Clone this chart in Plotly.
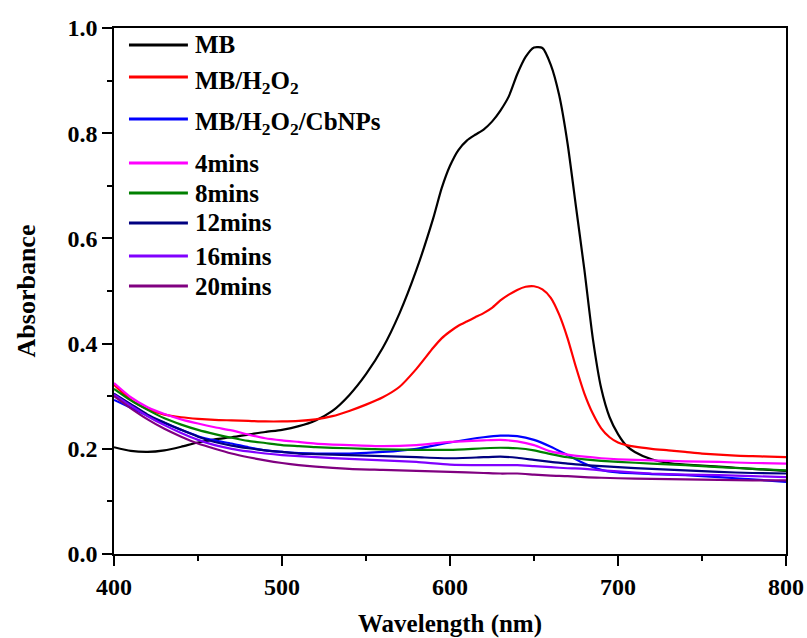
import plotly.graph_objects as go

# Wavelength grids (nm)
wl_main = [400, 410, 420, 430, 440, 450, 460, 470, 480, 490, 500, 510, 520, 530, 540, 550,
           560, 570, 580, 590, 595, 600, 605, 610, 615, 620, 625, 630, 635, 640, 645, 650,
           655, 660, 665, 670, 675, 680, 685, 690, 695, 700, 705, 710, 720, 730, 740, 750,
           760, 770, 780, 790, 800]
wl_low = [400, 410, 420, 430, 440, 450, 460, 470, 480, 490, 500, 510, 520, 540, 560, 580,
          600, 620, 630, 640, 650, 660, 670, 680, 690, 700, 720, 740, 760, 780, 800]

# Absorbance series
mb = [0.203, 0.196, 0.194, 0.197, 0.204, 0.212, 0.218, 0.222, 0.227, 0.232, 0.236, 0.243,
      0.254, 0.272, 0.302, 0.342, 0.392, 0.458, 0.540, 0.638, 0.695, 0.738, 0.768, 0.786,
      0.797, 0.807, 0.822, 0.843, 0.870, 0.912, 0.945, 0.963, 0.962, 0.930, 0.872, 0.780,
      0.660, 0.540, 0.410, 0.315, 0.260, 0.228, 0.206, 0.194, 0.180, 0.173, 0.170, 0.168,
      0.166, 0.164, 0.162, 0.160, 0.158]
mb_h2o2 = [0.322, 0.293, 0.275, 0.265, 0.260, 0.257, 0.255, 0.254, 0.253, 0.252, 0.252, 0.253,
           0.256, 0.262, 0.272, 0.284, 0.298, 0.318, 0.352, 0.392, 0.410, 0.423, 0.434, 0.442,
           0.450, 0.458, 0.468, 0.482, 0.493, 0.502, 0.508, 0.509, 0.503, 0.487, 0.455, 0.410,
           0.355, 0.305, 0.267, 0.239, 0.222, 0.212, 0.207, 0.204, 0.200, 0.197, 0.194, 0.191,
           0.189, 0.187, 0.186, 0.185, 0.184]
mb_cbnps = [0.293, 0.278, 0.263, 0.249, 0.236, 0.224, 0.216, 0.210, 0.203, 0.197, 0.194, 0.192,
            0.191, 0.191, 0.194, 0.200, 0.212, 0.222, 0.225, 0.224, 0.217, 0.204, 0.188, 0.172,
            0.160, 0.155, 0.152, 0.150, 0.146, 0.142, 0.137]
m4 = [0.325, 0.298, 0.279, 0.266, 0.256, 0.248, 0.241, 0.235, 0.227, 0.220, 0.216, 0.213,
      0.210, 0.207, 0.205, 0.207, 0.213, 0.216, 0.217, 0.214, 0.207, 0.195, 0.189, 0.185,
      0.182, 0.180, 0.178, 0.176, 0.175, 0.173, 0.172]
m8 = [0.314, 0.292, 0.274, 0.258, 0.246, 0.236, 0.228, 0.221, 0.215, 0.211, 0.207, 0.205,
      0.203, 0.201, 0.199, 0.198, 0.198, 0.201, 0.202, 0.201, 0.197, 0.190, 0.184, 0.180,
      0.177, 0.175, 0.172, 0.169, 0.165, 0.162, 0.159]
m12 = [0.305, 0.285, 0.265, 0.250, 0.236, 0.223, 0.213, 0.206, 0.201, 0.197, 0.194, 0.191,
       0.190, 0.188, 0.186, 0.184, 0.182, 0.184, 0.185, 0.183, 0.179, 0.175, 0.172, 0.169,
       0.167, 0.165, 0.162, 0.159, 0.156, 0.154, 0.153]
m16 = [0.303, 0.282, 0.262, 0.245, 0.230, 0.217, 0.207, 0.200, 0.195, 0.191, 0.188, 0.186,
       0.184, 0.181, 0.178, 0.175, 0.170, 0.169, 0.169, 0.169, 0.167, 0.165, 0.163, 0.162,
       0.159, 0.157, 0.153, 0.151, 0.150, 0.148, 0.146]
m20 = [0.300, 0.277, 0.256, 0.238, 0.223, 0.210, 0.200, 0.191, 0.184, 0.178, 0.173, 0.169,
       0.166, 0.162, 0.160, 0.158, 0.156, 0.154, 0.153, 0.153, 0.151, 0.149, 0.148, 0.146,
       0.145, 0.144, 0.143, 0.142, 0.141, 0.140, 0.140]

names = ["MB", "MB/H<sub>2</sub>O<sub>2</sub>", "MB/H<sub>2</sub>O<sub>2</sub>/CbNPs",
         "4mins", "8mins", "12mins", "16mins", "20mins"]
xs = [wl_main, wl_main, wl_low, wl_low, wl_low, wl_low, wl_low, wl_low]
ys = [mb, mb_h2o2, mb_cbnps, m4, m8, m12, m16, m20]
colors = ["#000000", "#FF0000", "#0000FF", "#FF00FF", "#008000", "#000080", "#8000FF", "#800080"]

FONT = "Liberation Serif, Times New Roman, serif"

fig = go.Figure()
for n, x, y, c in zip(names, xs, ys, colors):
    fig.add_trace(go.Scatter(x=x, y=y, name=n, mode="lines",
                             line=dict(color=c, width=2.2, shape="spline", smoothing=0.6),
                             showlegend=False))

# Manual legend (inside plot, top-left)
leg_y = [0.9677, 0.9068, 0.827, 0.7433, 0.6863, 0.6293, 0.5665, 0.5095]
for n, c, ly in zip(names, colors, leg_y):
    fig.add_shape(type="line", xref="paper", yref="paper", x0=0.0223, x1=0.110, y0=ly, y1=ly,
                  line=dict(color=c, width=3))
    sub = "<sub>" in n
    fig.add_annotation(x=0.1176, y=ly, xref="paper", yref="paper", text=n, showarrow=False,
                       xanchor="left", yanchor="middle", yshift=-5 if sub else 0,
                       font=dict(family=FONT, size=25, color="black", weight="bold"))

axis_common = dict(showline=True, linecolor="black", linewidth=1.5, mirror=True,
                   ticks="outside", ticklen=10, tickwidth=1.5, tickcolor="black",
                   showgrid=False, zeroline=False, automargin=False,
                   tickfont=dict(family=FONT, size=24, color="black", weight="bold"))

fig.update_xaxes(range=[400, 800], dtick=100, tick0=400,
                 minor=dict(dtick=50, ticks="outside", ticklen=5, tickwidth=1.5, tickcolor="black"),
                 title=dict(text="Wavelength (nm)", standoff=22,
                            font=dict(family=FONT, size=25, color="black", weight="bold")),
                 **axis_common)
fig.update_yaxes(range=[0, 1], dtick=0.2, tick0=0, tickformat=".1f",
                 minor=dict(dtick=0.1, ticks="outside", ticklen=5, tickwidth=1.5, tickcolor="black"),
                 title=dict(text="Absorbance", standoff=24,
                            font=dict(family=FONT, size=26, color="black", weight="bold")),
                 **axis_common)

fig.update_layout(width=807, height=638, margin=dict(l=114, r=21, t=28, b=84),
                  plot_bgcolor="white", paper_bgcolor="white")

fig.write_html("out.html")
